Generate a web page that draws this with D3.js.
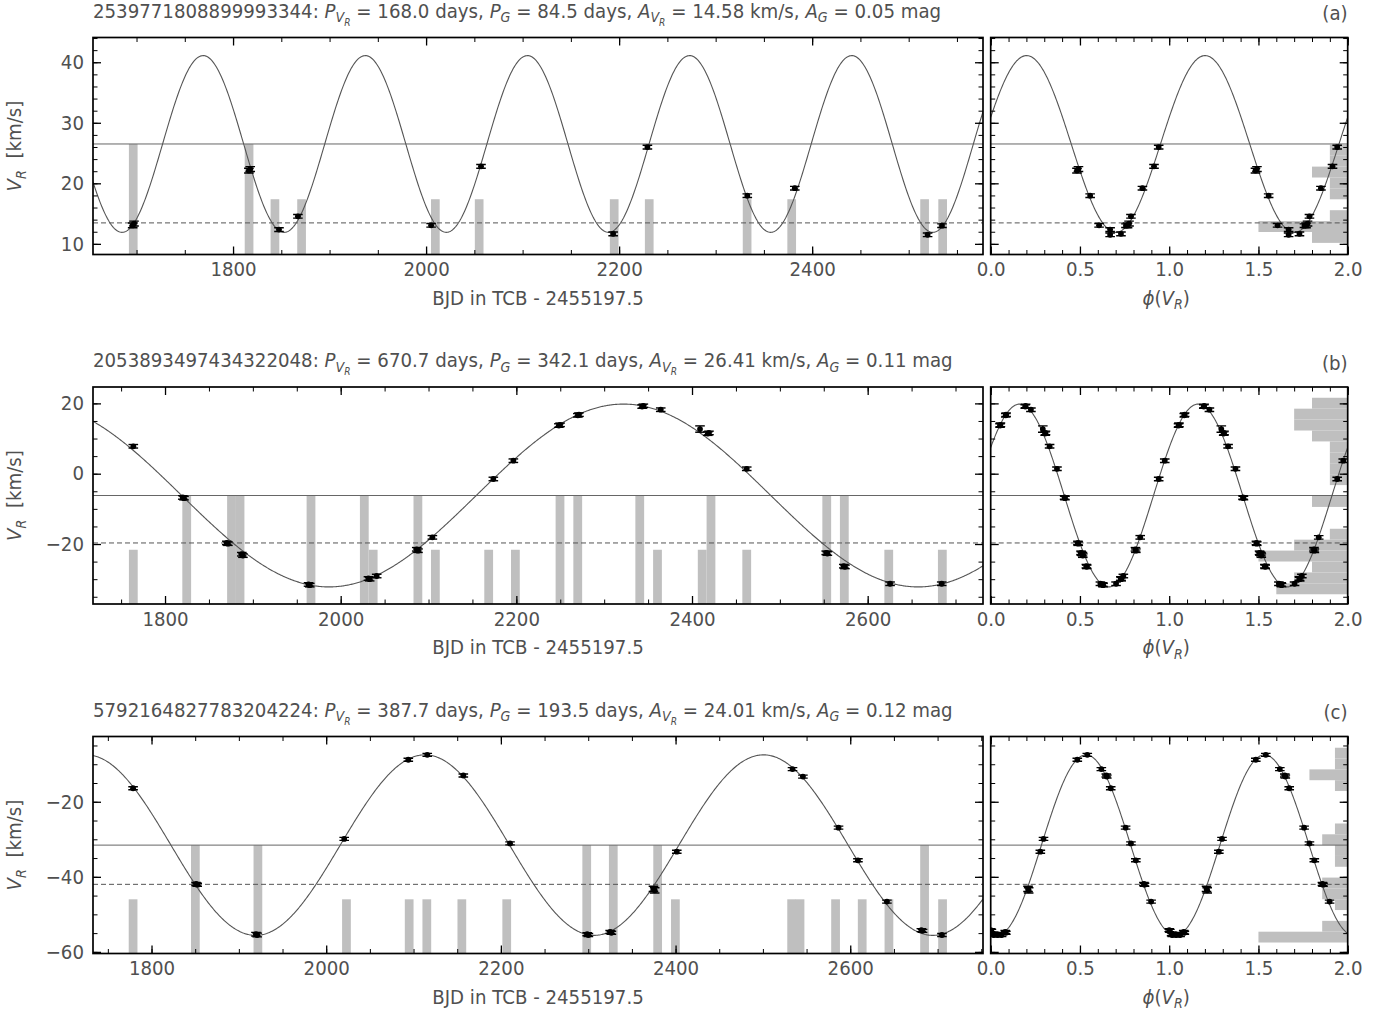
<!DOCTYPE html>
<html><head><meta charset="utf-8">
<script src="https://cdn.jsdelivr.net/npm/d3@7"></script>
<style>
body{margin:0;background:#fff}
text{font-family:"DejaVu Sans",sans-serif;white-space:pre}
</style>
</head><body>
<svg id="chart" width="1384" height="1016"></svg>
<script>
// ---------------- data ----------------
const panelLabels = ["(a)", "(b)", "(c)"];
const sourceIds = ["2539771808899993344", "2053893497434322048", "5792164827783204224"];
const periodVRText = ["168.0", "670.7", "387.7"];
const periodGText = ["84.5", "342.1", "193.5"];
const ampVRText = ["14.58", "26.41", "24.01"];
const ampGText = ["0.05", "0.11", "0.12"];

// fitted sinusoidal model (period from title, level / amplitude / epoch)
const periodVR = [168.0, 670.7, 387.7];
const meanLevel = [26.5, -6.2, -31.55];
const modelAmp = [14.6, 26.0, 24.05];
const peakTime = [1769, 2322, 2113];
const phaseZeroTime = [1735.2, 1542.6, 1905.9];
const dashedLevel = [13.46, -19.7, -42.0];

// axis ranges
const timeDomain = [[1654.9, 2577.0], [1718.0, 2731.3], [1733.0, 2752.0]];
const velDomain = [[8.24, 44.09], [-37.06, 24.66], [-60.43, -2.61]];
const timeMajorTicks = [[1800, 2000, 2200, 2400], [1800, 2000, 2200, 2400, 2600], [1800, 2000, 2200, 2400, 2600]];
const velMajorTicks = [[10, 20, 30, 40], [-20, 0, 20], [-60, -40, -20]];
const velMinorStep = [2, 5, 5];
const phaseMajorTicks = [0, 0.5, 1.0, 1.5, 2.0];
const phaseTickLabels = ["0.0", "0.5", "1.0", "1.5", "2.0"];

// epoch observations: time (BJD-2455197.5), V_R (km/s), error
const timesA = [1696.0, 1697.4, 1816.4, 1817.8, 1847.6, 1867.2, 2005.2, 2056.9, 2193.8, 2229.3, 2332.8, 2382.0, 2519.6, 2534.5];
const velA   = [13.05, 13.35, 22.1, 22.35, 12.35, 14.55, 13.06, 22.8, 11.65, 25.98, 17.96, 19.2, 11.5, 13.0];
const errA   = [0.4, 0.4, 0.4, 0.4, 0.3, 0.3, 0.3, 0.3, 0.3, 0.3, 0.3, 0.3, 0.3, 0.3];

const timesB = [1763.9, 1820.2, 1821.6, 1870.3, 1871.6, 1887.4, 1888.7, 1963.4, 1964.8, 2031.6, 2033.0, 2041.0, 2086.6, 2088.0, 2104.4, 2173.8, 2196.6, 2248.4, 2249.8, 2270.0, 2271.3, 2343.2, 2344.6, 2364.4, 2409.1, 2418.0, 2419.3, 2462.3, 2552.8, 2554.1, 2572.8, 2574.1, 2625.5, 2684.3];
const velB   = [7.8, -6.75, -6.95, -19.7, -19.9, -22.9, -23.3, -31.5, -31.7, -29.8, -30.0, -29.1, -21.5, -21.9, -18.1, -1.5, 3.7, 13.7, 13.9, 16.6, 16.8, 19.1, 19.3, 18.2, 12.7, 11.4, 11.6, 1.4, -22.5, -22.7, -26.3, -26.5, -31.3, -31.3];
const errB   = [0.5, 0.5, 0.5, 0.5, 0.5, 0.5, 0.5, 0.5, 0.5, 0.5, 0.5, 0.5, 0.5, 0.5, 0.5, 0.5, 0.5, 0.5, 0.5, 0.5, 0.5, 0.5, 0.5, 0.5, 0.9, 0.5, 0.5, 0.5, 0.5, 0.5, 0.5, 0.5, 0.5, 0.5];

const timesC = [1778.9, 1851.0, 1852.3, 1919.6, 1921.0, 2020.6, 2094.0, 2115.7, 2157.0, 2210.5, 2298.8, 2300.2, 2325.1, 2326.5, 2374.7, 2376.1, 2401.4, 2533.9, 2545.8, 2586.6, 2608.8, 2642.0, 2681.4, 2682.8, 2705.0];
const velC   = [-16.4, -41.9, -42.1, -55.3, -55.5, -29.9, -8.8, -7.5, -13.0, -31.1, -55.3, -55.5, -54.7, -54.9, -43.2, -43.6, -33.3, -11.3, -13.3, -26.9, -35.6, -46.6, -54.2, -54.4, -55.5];
const errC   = [0.4, 0.4, 0.4, 0.5, 0.5, 0.4, 0.4, 0.4, 0.4, 0.4, 0.4, 0.4, 0.4, 0.4, 0.7, 0.7, 0.4, 0.4, 0.4, 0.4, 0.4, 0.4, 0.4, 0.4, 0.4];

// histogram of epochs (bin centre, count)
const timeBinWidth = [9, 10, 10];
const timeBinsA = [1696.6, 1816.6, 1843.4, 1871.0, 2009.6, 2055.0, 2194.9, 2231.2, 2332.6, 2378.8, 2516.5, 2535.2];
const timeCountsA = [2, 2, 1, 1, 1, 1, 1, 1, 1, 1, 1, 1];
const timeBinsB = [1763.9, 1824.7, 1875.7, 1885.4, 1966.2, 2026.9, 2037.0, 2087.9, 2107.8, 2168.5, 2198.9, 2249.7, 2269.9, 2340.5, 2360.7, 2411.6, 2421.6, 2462.3, 2553.4, 2573.4, 2624.0, 2685.0];
const timeCountsB = [1, 2, 2, 2, 2, 2, 1, 2, 1, 1, 1, 2, 2, 2, 1, 1, 2, 1, 2, 2, 1, 1];
const timeBinsC = [1778.9, 1850.2, 1921.8, 2023.2, 2095.0, 2115.2, 2155.3, 2206.7, 2298.3, 2328.7, 2379.5, 2399.8, 2532.9, 2542.5, 2583.2, 2613.7, 2644.3, 2685.1, 2705.7];
const timeCountsC = [1, 2, 2, 1, 1, 1, 1, 1, 2, 2, 2, 1, 1, 1, 1, 1, 1, 2, 1];

// histogram of velocities (lowest edge, bin width, counts from bottom up)
const velBinLow = [10.16, -34.29, -57.5];
const velBinWidth = [1.8, 3.105, 2.883];
const velCountsA = [2, 5, 1, 0, 1, 1, 2, 1, 1];
const velCountsB = [4, 3, 2, 5, 3, 1, 0, 0, 2, 0, 1, 1, 1, 1, 2, 3, 3, 2];
const velCountsC = [7, 2, 0, 1, 2, 2, 0, 1, 1, 2, 1, 0, 0, 0, 1, 3, 1, 1];

const obsTimes = [timesA, timesB, timesC];
const obsVel = [velA, velB, velC];
const obsErr = [errA, errB, errC];
const timeBins = [timeBinsA, timeBinsB, timeBinsC];
const timeCounts = [timeCountsA, timeCountsB, timeCountsC];
const velCounts = [velCountsA, velCountsB, velCountsC];

// ---------------- layout ----------------
const leftX0 = 93, leftX1 = 983, rightX0 = 990.7, rightX1 = 1347.7;
const panelTop = [37.5, 387, 736.5];
const panelH = 217;
const TICK_COLOR = "#000", TEXT_COLOR = "#505050";
const FS = 19.5;        // font size (height)
const TITLE_W = 860;    // measured width of title (b) in the reference
let SX = 0.86;          // horizontal text compression (recomputed below)

const svg = d3.select("#chart");

function richText(sel, segs, size) {
  const sz = [size, size * 0.7, size * 0.5];
  const off = [0, size * 0.25, size * 0.42];
  let cur = 0;
  segs.forEach(s => {
    const lv = s[2] || 0;
    sel.append("tspan").text(s[0])
      .attr("font-size", sz[lv])
      .attr("font-style", s[1] === "i" ? "italic" : "normal")
      .attr("dy", (off[lv] - cur).toFixed(2));
    cur = off[lv];
  });
  return sel;
}
const minusFmt = v => (v < 0 ? "\u2212" + Math.abs(v) : String(v));
const titleSegs = i => [
  [sourceIds[i] + ": ", "n"], ["P", "i"], ["V", "i", 1], ["R", "i", 2],
  [" = " + periodVRText[i] + " days, ", "n"], ["P", "i"], ["G", "i", 1],
  [" = " + periodGText[i] + " days, ", "n"], ["A", "i"], ["V", "i", 1], ["R", "i", 2],
  [" = " + ampVRText[i] + " km/s, ", "n"], ["A", "i"], ["G", "i", 1],
  [" = " + ampGText[i] + " mag", "n"]
];
{
  const probe = richText(svg.append("text").attr("x", 0).attr("y", -100), titleSegs(1), FS);
  const w = probe.node().getComputedTextLength();
  if (w > 0) SX = TITLE_W / w;
  probe.remove();
}

function drawTicks(g, scale, orient, pos, major, minor, labels, pad) {
  const axisFn = {bottom: d3.axisBottom, top: d3.axisTop, left: d3.axisLeft, right: d3.axisRight}[orient];
  const tr = (orient === "bottom" || orient === "top") ? `translate(0,${pos})` : `translate(${pos},0)`;
  const gm = g.append("g").attr("transform", tr)
    .call(axisFn(scale).tickValues(minor).tickSize(-4.5).tickFormat(() => ""));
  gm.select(".domain").remove();
  gm.selectAll("line").attr("stroke", TICK_COLOR).attr("stroke-width", 1);
  const ga = g.append("g").attr("transform", tr)
    .call(axisFn(scale).tickValues(major).tickSize(-8).tickPadding(pad || 8)
      .tickFormat(labels ? ((d, k) => labels[k]) : () => ""));
  ga.select(".domain").remove();
  ga.selectAll("line").attr("stroke", TICK_COLOR).attr("stroke-width", 1.3);
  ga.selectAll("text").attr("font-size", FS).attr("fill", TEXT_COLOR)
    .attr("font-family", '"DejaVu Sans", sans-serif')
    .each(function () {
      const t = d3.select(this);
      const xv = +(t.attr("x") || 0);
      t.attr("x", xv / SX).attr("transform", `scale(${SX},1)`);
    });
}

panelLabels.forEach((lab, i) => {
  const top = panelTop[i], bottom = top + panelH;
  const x = d3.scaleLinear().domain(timeDomain[i]).range([leftX0, leftX1]);
  const y = d3.scaleLinear().domain(velDomain[i]).range([bottom, top]);
  const xp = d3.scaleLinear().domain([0, 2]).range([rightX0, rightX1]);
  const g = svg.append("g");

  const clipL = "clipL" + i, clipR = "clipR" + i;
  const defs = svg.append("defs");
  defs.append("clipPath").attr("id", clipL).append("rect")
    .attr("x", leftX0).attr("y", top).attr("width", leftX1 - leftX0).attr("height", panelH);
  defs.append("clipPath").attr("id", clipR).append("rect")
    .attr("x", rightX0).attr("y", top).attr("width", rightX1 - rightX0).attr("height", panelH);
  const gl = g.append("g").attr("clip-path", `url(#${clipL})`);
  const gr = g.append("g").attr("clip-path", `url(#${clipR})`);

  // --- epoch histogram (left) ---
  const hy = d3.scaleLinear().domain([0, d3.max(timeCounts[i])]).range([y(velDomain[i][0]), y(meanLevel[i])]);
  const bw = timeBinWidth[i];
  gl.selectAll("rect.tb").data(timeBins[i]).join("rect").attr("class", "tb")
    .attr("x", d => x(d - bw / 2)).attr("width", d => x(d + bw / 2) - x(d - bw / 2))
    .attr("y", (d, k) => hy(timeCounts[i][k]))
    .attr("height", (d, k) => hy(0) - hy(timeCounts[i][k]))
    .attr("fill", "#bfbfbf");

  // --- velocity histogram (right) ---
  const hx = d3.scaleLinear().domain([0, d3.max(velCounts[i])]).range([xp(2), xp(1.5)]);
  const vw = velBinWidth[i], vlo = velBinLow[i];
  gr.selectAll("rect.vb").data(velCounts[i]).join("rect").attr("class", "vb")
    .attr("x", d => hx(d)).attr("width", d => hx(0) - hx(d) + 2)
    .attr("y", (d, k) => y(vlo + (k + 1) * vw))
    .attr("height", (d, k) => y(vlo + k * vw) - y(vlo + (k + 1) * vw))
    .attr("fill", "#bfbfbf");

  // --- horizontal reference lines ---
  [[gl, leftX0, leftX1], [gr, rightX0, rightX1]].forEach(([gg, a, b]) => {
    gg.append("line").attr("x1", a).attr("x2", b)
      .attr("y1", y(meanLevel[i])).attr("y2", y(meanLevel[i]))
      .attr("stroke", "#666").attr("stroke-width", 1);
    gg.append("line").attr("x1", a).attr("x2", b)
      .attr("y1", y(dashedLevel[i])).attr("y2", y(dashedLevel[i]))
      .attr("stroke", "#555").attr("stroke-width", 1).attr("stroke-dasharray", "5,3");
  });

  // --- model curves ---
  const P = periodVR[i], m = meanLevel[i], A = modelAmp[i], tp = peakTime[i], t0 = phaseZeroTime[i];
  const model = t => m + A * Math.cos(2 * Math.PI * (t - tp) / P);
  const tgrid = d3.range(timeDomain[i][0], timeDomain[i][1] + 1, 1);
  gl.append("path").datum(tgrid)
    .attr("d", d3.line().x(t => x(t)).y(t => y(model(t))))
    .attr("fill", "none").attr("stroke", "#555").attr("stroke-width", 1.1);
  const phiGrid = d3.range(0, 2.0001, 0.004);
  gr.append("path").datum(phiGrid)
    .attr("d", d3.line().x(f => xp(f)).y(f => y(model(t0 + f * P))))
    .attr("fill", "none").attr("stroke", "#555").attr("stroke-width", 1.1);

  // --- observations ---
  const obs = obsTimes[i].map((t, k) => ({t, v: obsVel[i][k], e: obsErr[i][k]}));
  const phase = t => (((t - t0) / P) % 1 + 1) % 1;
  function drawPoint(gg, cx, o) {
    const y1 = y(o.v - o.e), y2 = y(o.v + o.e);
    gg.append("line").attr("x1", cx).attr("x2", cx).attr("y1", y1).attr("y2", y2)
      .attr("stroke", "#000").attr("stroke-width", 1.4);
    [y1, y2].forEach(yy => gg.append("line").attr("x1", cx - 4.8).attr("x2", cx + 4.8)
      .attr("y1", yy).attr("y2", yy).attr("stroke", "#000").attr("stroke-width", 1.4));
    gg.append("circle").attr("cx", cx).attr("cy", y(o.v)).attr("r", 2.9).attr("fill", "#000");
  }
  obs.forEach(o => drawPoint(gl, x(o.t), o));
  obs.forEach(o => { const f = phase(o.t); drawPoint(gr, xp(f), o); drawPoint(gr, xp(f + 1), o); });

  // --- ticks ---
  const tMinor = d3.range(1650, 2800, 50).filter(v => v > timeDomain[i][0] && v < timeDomain[i][1]);
  const vMinor = d3.range(-100, 100, velMinorStep[i]).filter(v => v > velDomain[i][0] && v < velDomain[i][1]);
  const pMinor = d3.range(0, 2.0001, 0.1);
  drawTicks(g, x, "bottom", bottom, timeMajorTicks[i], tMinor, timeMajorTicks[i].map(String), 8);
  drawTicks(g, x, "top", top, timeMajorTicks[i], tMinor, null);
  drawTicks(g, y, "left", leftX0, velMajorTicks[i], vMinor, velMajorTicks[i].map(minusFmt), 9);
  drawTicks(g, y, "right", leftX1, velMajorTicks[i], vMinor, null);
  drawTicks(g, xp, "bottom", bottom, phaseMajorTicks, pMinor, phaseTickLabels, 8);
  drawTicks(g, xp, "top", top, phaseMajorTicks, pMinor, null);
  drawTicks(g, y, "left", rightX0, velMajorTicks[i], vMinor, null);
  drawTicks(g, y, "right", rightX1, velMajorTicks[i], vMinor, null);

  // --- frames ---
  [[leftX0, leftX1], [rightX0, rightX1]].forEach(([a, b]) =>
    g.append("rect").attr("x", a).attr("y", top).attr("width", b - a).attr("height", panelH)
      .attr("fill", "none").attr("stroke", "#000").attr("stroke-width", 1.7));

  // --- titles ---
  const title = g.append("text").attr("transform", `translate(${leftX0},${top - 20}) scale(${SX},1)`)
    .attr("fill", TEXT_COLOR);
  richText(title, titleSegs(i), FS);
  g.append("text").attr("transform", `translate(${rightX1},${top - 17.5}) scale(${SX},1)`)
    .attr("text-anchor", "end").attr("font-size", FS).attr("fill", TEXT_COLOR).text(lab);

  // axis labels
  const xl = g.append("text").attr("transform", `translate(${(leftX0 + leftX1) / 2},${bottom + 50}) scale(${SX},1)`)
    .attr("text-anchor", "middle").attr("fill", TEXT_COLOR);
  richText(xl, [["BJD in TCB - 2455197.5", "n"]], FS);
  const pl = g.append("text").attr("transform", `translate(${(rightX0 + rightX1) / 2 - 3},${bottom + 50}) scale(${SX},1)`)
    .attr("text-anchor", "middle").attr("fill", TEXT_COLOR);
  richText(pl, [["\u03d5", "i"], ["(", "n"], ["V", "i"], ["R", "i", 1], [")", "n"]], FS);
  const yl = g.append("text").attr("transform", `translate(21,${top + panelH / 2}) rotate(-90) scale(${SX},1)`)
    .attr("text-anchor", "middle").attr("fill", TEXT_COLOR);
  richText(yl, [["V", "i"], ["R", "i", 1], ["  [km/s]", "n"]], FS);
});
</script>
</body></html>
